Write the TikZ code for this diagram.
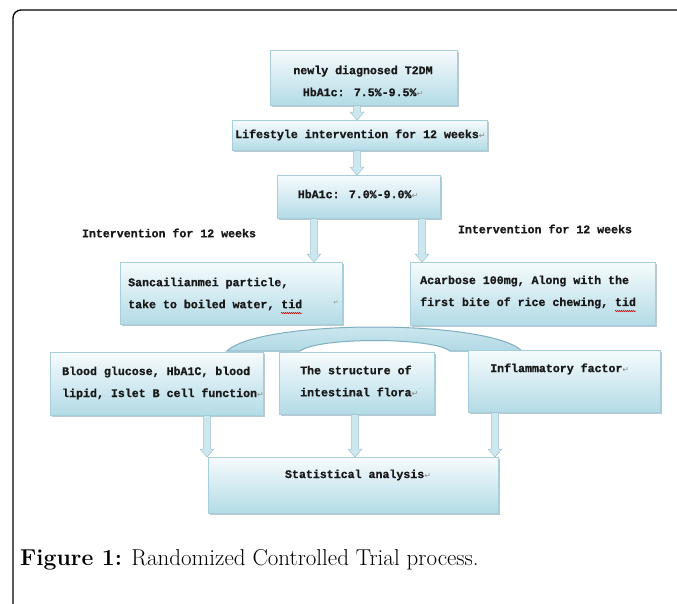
\documentclass[tikz,border=0pt]{standalone}
\usepackage{fontspec}
\usetikzlibrary{calc,shadows,decorations.pathmorphing}
\newfontfamily\boxmono{Liberation Mono}[BoldFeatures={FakeBold=0.9}]
\newfontfamily\retsym{DejaVu Sans}
\definecolor{boxtop}{HTML}{F6FBFD}
\definecolor{boxbot}{HTML}{B3DBE6}
\definecolor{boxborder}{HTML}{A6CEDB}
\definecolor{shadowc}{HTML}{7F9CA8}
\definecolor{arrowfill}{HTML}{CDE7EF}
\definecolor{arrowdraw}{HTML}{9CC3D1}
\definecolor{archtop}{HTML}{D3EBF2}
\definecolor{archbot}{HTML}{B2D9E5}
\definecolor{archdraw}{HTML}{7FAEBE}
\definecolor{retc}{HTML}{8A8A8A}
\newcommand\retmark{{\retsym\mdseries\fontsize{8}{8}\selectfont\color{retc}↵}}
\tikzset{
  box/.style={rectangle, draw=boxborder, line width=0.6pt, top color=boxtop, bottom color=boxbot,
    anchor=north west, inner sep=0pt,
    drop shadow={shadow xshift=1.2pt, shadow yshift=-2pt, fill=shadowc, opacity=0.55}},
  txt/.style={font=\boxmono\bfseries\fontsize{11.6}{22}\selectfont, inner sep=0pt, text=black!90},
  barrow/.style={fill=arrowfill, draw=arrowdraw, line width=0.5pt,
    to path={let \p1=(\tikztostart), \p2=(\tikztotarget) in
      (\x1-3.5pt,\y1) -- (\x1-3.5pt,\y2+8pt) -- (\x1-7pt,\y2+8pt) -- (\x1,\y2)
      -- (\x1+7pt,\y2+8pt) -- (\x1+3.5pt,\y2+8pt) -- (\x1+3.5pt,\y1) -- cycle}},
  squiggle/.style={draw=red!85!black, line width=0.5pt, decorate,
    decoration={snake, amplitude=0.7pt, segment length=2pt}}
}
\begin{document}
\begin{tikzpicture}[x=1pt,y=-1pt]
\useasboundingbox (0,0) rectangle (677,603);
% frame
\draw[line width=1.3pt, rounded corners=8pt] (13,604) -- (13,10) -- (677,10);
% arrow x positions
\coordinate (ax1) at (357,0);
\coordinate (ax2) at (314,0);
\coordinate (ax3) at (422,0);
\coordinate (ax4) at (207,0);
\coordinate (ax5) at (355,0);
\coordinate (ax6) at (495,0);
% boxes (geometry)
\path
  node[box, minimum width=187pt, minimum height=55pt] (b1) at (270,50) {}
  node[box, minimum width=255pt, minimum height=30pt] (b2) at (232,120) {}
  node[box, minimum width=163pt, minimum height=43pt] (b3) at (277,175) {};
% arch
\draw[top color=archtop, bottom color=archbot, draw=archdraw, line width=1pt]
  (227,351) .. controls (260,319) and (489,319) .. (522,351)
  -- (450,351) .. controls (432,337) and (318,337) .. (300,351) -- cycle;
\path
  node[box, minimum width=222pt, minimum height=62pt] (b4) at (120,262) {}
  node[box, minimum width=245pt, minimum height=63pt] (b5) at (410,262) {}
  node[box, minimum width=213pt, minimum height=63pt] (b6) at (50,352) {}
  node[box, minimum width=155pt, minimum height=62pt] (b7) at (279,352) {}
  node[box, minimum width=192pt, minimum height=62pt] (b8) at (468,350) {}
  node[box, minimum width=290pt, minimum height=56pt] (b9) at (208,457) {};
% arrows
\draw[barrow] (ax1 |- b1.south) to (ax1 |- b2.north);
\draw[barrow] (ax1 |- b2.south) to (ax1 |- b3.north);
\draw[barrow] (ax2 |- b3.south) to (ax2 |- b4.north);
\draw[barrow] (ax3 |- b3.south) to (ax3 |- b5.north);
\draw[barrow] (ax4 |- b6.south) to (ax4 |- b9.north);
\draw[barrow] (ax5 |- b7.south) to (ax5 |- b9.north);
\draw[barrow] (ax6 |- b8.south) to (ax6 |- b9.north);
% texts
\node[txt, align=center] (t1) at (363,81) {newly diagnosed T2DM\\HbA1c: 7.5\%-9.5\%\retmark};
\node[txt, anchor=west] (t2) at (235,135) {Lifestyle intervention for 12 weeks\retmark};
\node[txt] (t3) at (358,194) {HbA1c: 7.0\%-9.0\%\retmark};
\node[txt] (l1) at (169,233) {Intervention for 12 weeks};
\node[txt] (l2) at (545,229) {Intervention for 12 weeks};
\node[txt, align=left, anchor=west] (t4) at (128,294) {Sancailianmei particle,\\take to boiled water, tid};
\node[retc, font=\retsym\fontsize{6}{6}\selectfont, inner sep=0pt] (m4) at (336,303) {↵};
\node[txt, align=left, anchor=west] (t5) at (420,292) {Acarbose 100mg, Along with the\\first bite of rice chewing, tid};
\node[txt, align=left, anchor=west] (t6) at (62,383) {Blood glucose, HbA1C, blood\\lipid, Islet B cell function\retmark};
\node[txt, align=left, anchor=west] (t7) at (300,381) {The structure of\\intestinal flora\retmark};
\node[txt, anchor=west] (t8) at (490,369) {Inflammatory factor\retmark};
\node[txt] (t9) at (358,475) {Statistical analysis\retmark};
% spelling squiggles under "tid"
\draw[squiggle] (281,313) -- (302,313);
\draw[squiggle] (615,311) -- (636,311);
% caption
\node[anchor=base west, inner sep=0pt, font=\fontsize{23}{27}\selectfont] (cap) at (20,565)
  {\textbf{Figure 1:} Randomized Controlled Trial process.};
\end{tikzpicture}
\end{document}
